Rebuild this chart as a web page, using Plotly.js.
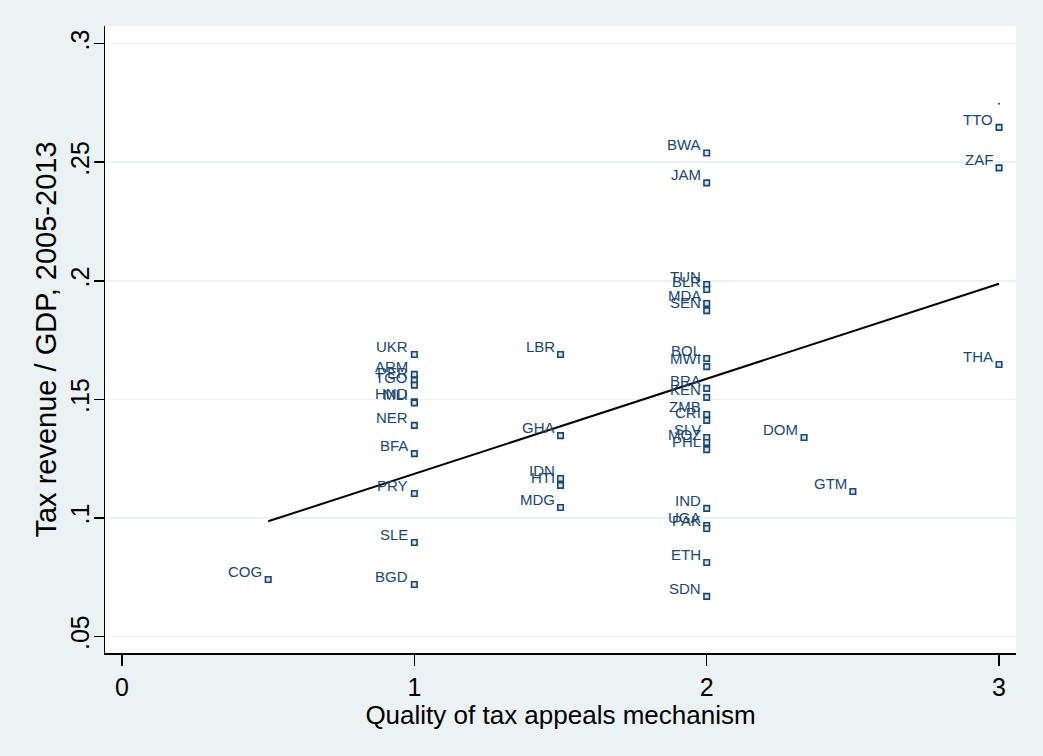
<!DOCTYPE html>
<html>
<head>
<meta charset="utf-8">
<script src="https://cdn.plot.ly/plotly-3.0.1.min.js"></script>
<style>html,body{margin:0;padding:0;background:#EAF2F3;}#chart{width:1043px;height:756px;}</style>
</head>
<body>
<div id="chart"></div>
<script>
// Country codes (empty label = unlabeled observation)
const countries = ["COG",
  "UKR","ARM","PER","TGO","HND","MLI","NER","BFA","PRY","SLE","BGD",
  "LBR","GHA","IDN","HTI","MDG",
  "BWA","JAM","TUN","BLR","MDA","SEN","BOL","MWI","BRA","KEN","ZMB","CRI","SLV","MOZ","PHL","IND","UGA","PAK","ETH","SDN",
  "DOM","GTM",
  "TTO","ZAF","THA",""];
// Quality of tax appeals mechanism
const appealsQuality = [0.5,
  1,1,1,1,1,1,1,1,1,1,1,
  1.5,1.5,1.5,1.5,1.5,
  2,2,2,2,2,2,2,2,2,2,2,2,2,2,2,2,2,2,2,2,
  2.333,2.5,
  3,3,3,3];
// Tax revenue / GDP, 2005-2013
const taxRevenueGDP = [0.074,
  0.1689,0.1605,0.158,0.156,0.149,0.1485,0.139,0.1271,0.1103,0.0896,0.0719,
  0.1689,0.1347,0.1166,0.1137,0.1044,
  0.2539,0.2413,0.1984,0.1963,0.1904,0.1874,0.1672,0.1638,0.1546,0.1508,0.1436,0.1411,0.1339,0.1318,0.1288,0.104,0.0968,0.0955,0.0812,0.0669,
  0.1339,0.1111,
  0.2647,0.2476,0.1647,0.2747];

const xTickVals = [0,1,2,3];
const xTickText = ["0","1","2","3"];
const yTickVals = [0.05,0.1,0.15,0.2,0.25,0.3];
const yTickText = [".05",".1",".15",".2",".25",".3"];

// Linear fit (OLS) over all observations
const n = appealsQuality.length;
let sx=0, sy=0, sxx=0, sxy=0;
for (let i=0;i<n;i++){ const x=appealsQuality[i], y=taxRevenueGDP[i]; sx+=x; sy+=y; sxx+=x*x; sxy+=x*y; }
const slope = (n*sxy - sx*sy)/(n*sxx - sx*sx);
const intercept = (sy - slope*sx)/n;
const xmin = Math.min(...appealsQuality), xmax = Math.max(...appealsQuality);
const fitX = [xmin, xmax];
const fitY = fitX.map(x => intercept + slope*x);

const lx=[], ly=[], ux=[], uy=[];
const navy = "#1a476f";
const font = "Liberation Sans, Arial, Helvetica, sans-serif";
const annotations = [];
for (let i=0;i<n;i++){
  if (countries[i]) {
    lx.push(appealsQuality[i]); ly.push(taxRevenueGDP[i]);
    annotations.push({
      x: appealsQuality[i], y: taxRevenueGDP[i], xref: "x", yref: "y",
      text: countries[i], showarrow: false,
      xanchor: "right", yanchor: "middle", xshift: -4, yshift: 8,
      font: {family: font, size: 15, color: navy}
    });
  } else { ux.push(appealsQuality[i]); uy.push(taxRevenueGDP[i]); }
}

const traces = [
  {
    x: lx, y: ly, type: "scatter", mode: "markers",
    marker: {symbol: "square", size: 5.5, color: "#d6e2ec", line: {color: navy, width: 1.6}},
    showlegend: false
  },
  {
    x: ux, y: uy, type: "scatter", mode: "markers",
    marker: {symbol: "circle", size: 2, color: navy},
    showlegend: false
  },
  {
    x: fitX, y: fitY, type: "scatter", mode: "lines",
    line: {color: "#000000", width: 2},
    showlegend: false
  }
];

const layout = {
  width: 1043, height: 756,
  paper_bgcolor: "#EAF2F3", plot_bgcolor: "#FFFFFF",
  margin: {l: 105, r: 27, t: 26, b: 103, pad: 0},
  font: {family: font, color: "#000000"},
  showlegend: false,
  annotations: annotations,
  xaxis: {
    range: [-0.0582, 3.058],
    tickmode: "array", tickvals: xTickVals, ticktext: xTickText,
    ticks: "outside", ticklen: 11, tickwidth: 1.5, tickcolor: "#000000",
    showline: true, linecolor: "#000000", linewidth: 1.5,
    showgrid: false, zeroline: false,
    tickfont: {family: font, size: 25, color: "#000000"},
    title: {text: "Quality of tax appeals mechanism", font: {family: font, size: 26, color: "#000000"}, standoff: 0}
  },
  yaxis: {
    range: [0.0430, 0.30746],
    tickmode: "array", tickvals: yTickVals, ticktext: yTickText,
    tickangle: -90, ticklabelstandoff: -5,
    ticks: "outside", ticklen: 10, tickwidth: 1.5, tickcolor: "#000000",
    showline: true, linecolor: "#000000", linewidth: 1.5,
    showgrid: true, gridcolor: "#EAF2F3", gridwidth: 1.5, zeroline: false,
    tickfont: {family: font, size: 25, color: "#000000"},
    title: {text: "Tax revenue / GDP, 2005-2013", font: {family: font, size: 29, color: "#000000"}, standoff: 0}
  }
};

Plotly.newPlot("chart", traces, layout, {displayModeBar: false, staticPlot: true});
</script>
</body>
</html>
